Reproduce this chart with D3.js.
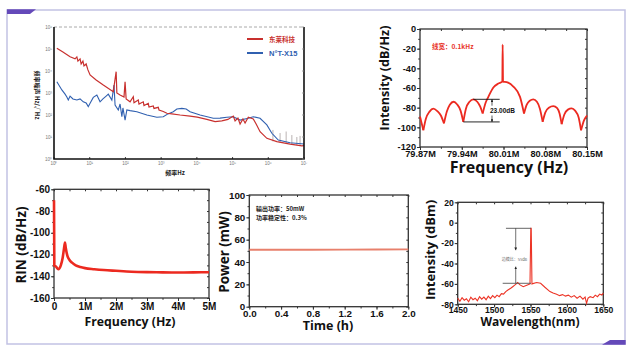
<!DOCTYPE html>
<html>
<head>
<meta charset="utf-8">
<script src="https://cdn.jsdelivr.net/npm/d3@7"></script>
<style>
  body { margin: 0; background: #fff; }
  svg { display: block; }
</style>
</head>
<body>
<div id="chart"></div>
<script>
// ---------- data ----------
// frequency noise, [log10 f (Hz), log10 noise (Hz/rtHz)]
const noiseRed = [[0.08,5.03],[0.25,4.86],[0.45,4.65],[0.59,4.55],[0.64,4.64],[0.67,4.45],[0.73,4.55],[0.76,4.32],[0.81,4.45],[0.84,4.23],[0.90,4.32],[0.95,4.05],[1.01,3.82],[1.18,3.59],[1.38,3.36],[1.66,3.06],[1.74,3.97],[1.76,3.00],[1.85,2.91],[1.96,2.82],[1.99,3.51],[2.02,2.73],[2.13,2.60],[2.22,2.83],[2.24,2.56],[2.36,2.68],[2.38,2.50],[2.50,2.60],[2.52,2.43],[2.64,2.53],[2.66,2.36],[2.78,2.41],[2.80,2.30],[2.92,2.35],[2.94,2.23],[3.06,2.16],[3.16,2.08],[3.30,2.05],[3.53,2.00],[3.81,1.95],[4.01,1.90],[4.28,1.80],[4.51,1.70],[4.70,1.73],[4.87,1.80],[5.02,1.95],[5.07,1.73],[5.15,1.86],[5.21,1.59],[5.29,1.82],[5.35,1.64],[5.44,1.90],[5.58,1.82],[5.66,1.59],[5.77,1.24],[5.96,0.94],[6.24,0.79],[6.61,0.68],[6.94,0.60],[7.0,0.61]];
const noiseBlue = [[0.08,3.51],[0.22,3.14],[0.31,2.95],[0.36,2.82],[0.40,2.68],[0.45,2.86],[0.53,2.73],[0.64,2.68],[0.73,2.73],[0.82,2.60],[0.90,2.55],[0.96,2.38],[1.01,2.53],[1.10,2.80],[1.20,2.91],[1.29,2.60],[1.37,2.73],[1.46,2.86],[1.52,2.95],[1.62,2.68],[1.68,3.36],[1.71,2.45],[1.80,2.23],[1.85,2.50],[1.90,1.92],[1.93,2.32],[1.99,1.77],[2.04,2.23],[2.13,2.20],[2.32,2.15],[2.60,2.00],[2.88,1.90],[3.06,1.92],[3.19,2.05],[3.34,2.15],[3.44,2.27],[3.58,2.30],[3.70,2.27],[3.81,2.15],[4.09,2.00],[4.46,1.85],[4.65,1.86],[4.84,1.90],[5.02,1.92],[5.21,1.77],[5.44,1.85],[5.58,1.92],[5.77,1.85],[5.96,1.55],[6.10,1.17],[6.28,0.86],[6.61,0.74],[7.0,0.68]];
// grey spikes near the end, [log10 f, log10 base, log10 top]
const noiseSpikes = [[6.13,0.80,1.32],[6.33,0.74,1.18],[6.50,0.70,1.25],[6.66,0.67,1.09],[6.80,0.63,1.00],[6.89,0.61,1.05]];
const noiseLegend = ["东莱科技", "N°T-X15"];
const noiseExpX = [0,1,2,3,4,5,6,7];
const noiseExpY = [0,1,2,3,4,5,6];

// beat-note spectrum, lobes between minima, [MHz, dB/Hz]
const beatLobes = [
  [[79.870,-89],[79.8756,-103]],
  [[79.8756,-103],[79.880,-91],[79.886,-84],[79.8923,-81],[79.899,-83.5],[79.905,-88],[79.9102,-96]],
  [[79.9102,-96],[79.915,-84],[79.920,-77],[79.9264,-74],[79.932,-76.5],[79.938,-83],[79.9426,-94.5]],
  [[79.9426,-94.5],[79.947,-81],[79.953,-74],[79.9594,-71.5],[79.966,-74],[79.971,-79],[79.9751,-86]],
  [[79.9751,-86],[79.980,-75],[79.9846,-69],[79.993,-59.5],[80.0013,-55.5],[80.0080,-53.5],[80.0086,-16],[80.0092,-53.5],[80.0153,-54],[80.0265,-58.5],[80.0377,-69],[80.0444,-86]],
  [[80.0444,-86],[80.049,-77],[80.054,-73],[80.060,-71.6],[80.066,-74],[80.071,-81],[80.0757,-94.4]],
  [[80.0757,-94.4],[80.080,-85],[80.086,-80],[80.0935,-78.4],[80.100,-80.5],[80.104,-86],[80.1075,-96.8]],
  [[80.1075,-96.8],[80.112,-87],[80.118,-82],[80.1243,-80.8],[80.130,-83],[80.136,-90],[80.140,-103]],
  [[80.140,-103],[80.145,-93],[80.150,-88]]
];
const beatTicksX = [79.87, 79.94, 80.01, 80.08, 80.15];
const beatTicksY = [-120,-100,-80,-60,-40,-20,0];
const beatLevels = [-71.5, -94.5];   // 23.00dB marker

// RIN, [MHz, dB/Hz]
const rin = [[0,-70],[0.01,-130],[0.06,-131],[0.14,-133.5],[0.22,-130],[0.28,-123],[0.32,-115],[0.354,-109],[0.38,-114],[0.43,-121],[0.5,-125],[0.58,-127.5],[0.7,-130],[0.85,-131.5],[1.0,-132.5],[1.3,-133.5],[1.6,-134.3],[2.0,-135],[2.5,-135.8],[3.0,-136.2],[3.5,-136.4],[4.0,-136.5],[4.5,-136.4],[5.0,-136.3]];
const rinTicksX = [0,1,2,3,4,5];
const rinTicksY = [-160,-140,-120,-100,-80,-60];

// power stability, [h, mW]
const power = [[0,51],[0.4,51],[0.8,51],[1.2,51.1],[1.6,51.2],[2.0,51.3]];
const powerTicksX = [0,0.4,0.8,1.2,1.6,2.0];
const powerTicksY = [0,20,40,60,80,100];

// optical spectrum, [nm, dBm]
const osa = [[1450,-74],[1453,-77],[1456,-73.5],[1459,-76],[1462,-74.5],[1465,-77.5],[1468,-73],[1471,-75.5],[1474,-74],[1477,-76.5],[1480,-72.5],[1483,-75],[1486,-73],[1489,-75.5],[1492,-72],[1495,-74.5],[1498,-71.5],[1501,-73.5],[1504,-71],[1507,-72.5],[1510,-69.5],[1513,-70],[1516,-67.5],[1519,-66],[1522.8,-64.3],[1526,-62.5],[1528.7,-61],[1532.4,-58.7],[1535.6,-61],[1540,-62.7],[1545.7,-61],[1549.3,-60],[1550.4,-5.5],[1551,-5.5],[1552,-60],[1558.4,-58.7],[1563.9,-59.4],[1569.8,-63.3],[1576.7,-67.5],[1581,-69],[1585.9,-70.2],[1590,-71.5],[1594,-70.5],[1598,-72],[1602,-71],[1606,-73],[1610,-71.5],[1614,-74],[1618,-72],[1622,-75],[1625,-73],[1627,-79],[1629,-74],[1632,-72.5],[1636,-73.5],[1639,-71],[1642,-72.5],[1645,-70],[1648,-71],[1650,-69]];
const osaTicksX = [1450,1500,1550,1600,1650];
const osaTicksY = [-80,-60,-40,-20,0,20];
const osaLevels = [-5.5, -59.4];     // side-mode marker

// ---------- drawing ----------
const W = 633, H = 351;
const NUM = "'Liberation Sans', Arial, sans-serif";
const TITLE = "'Open Sans', sans-serif";
const CJK = "'Noto Sans CJK SC', sans-serif";

const svg = d3.select("#chart").append("svg").attr("width", W).attr("height", H);
svg.append("rect").attr("width", W).attr("height", H).attr("fill", "#fff");

const defs = svg.append("defs");
defs.append("marker").attr("id", "arr").attr("viewBox", "0 0 6 6")
  .attr("refX", 6).attr("refY", 3).attr("markerWidth", 4).attr("markerHeight", 4)
  .attr("orient", "auto")
  .append("path").attr("d", "M0,0L6,3L0,6z").attr("fill", "#222");

// outer frame
svg.append("rect").attr("x", 7).attr("y", 10).attr("width", 618).attr("height", 334)
  .attr("fill", "none").attr("stroke", "#c2c2e4").attr("stroke-width", 1.5);
svg.append("polygon").attr("points", "7,9.3 36,9.3 30,14 7,14").attr("fill", "#6449b9");
svg.append("polygon").attr("points", "610,340 625.7,340 625.7,344.8 602,344.8").attr("fill", "#6449b9");

// Origin style framed plot
function originChart(o) {
  const g = svg.append("g");
  const x = d3.scaleLinear().domain(o.xDomain).range([o.left, o.right]);
  const y = d3.scaleLinear().domain(o.yDomain).range([o.bottom, o.top]);
  const xMinor = d3.range(o.xDomain[0], o.xDomain[1] + 1e-9, o.xMinorStep);
  const yMinor = d3.range(o.yDomain[0], o.yDomain[1] + 1e-9, o.yMinorStep);

  const axes = [
    [d3.axisBottom(x).tickValues(o.xTicks).tickFormat(o.xFmt).tickSize(3).tickPadding(o.xPad), `translate(0,${o.bottom})`, true],
    [d3.axisBottom(x).tickValues(xMinor).tickFormat("").tickSize(1.8), `translate(0,${o.bottom})`, false],
    [d3.axisLeft(y).tickValues(o.yTicks).tickFormat(o.yFmt).tickSize(3).tickPadding(1), `translate(${o.left},0)`, true],
    [d3.axisLeft(y).tickValues(yMinor).tickFormat("").tickSize(1.8), `translate(${o.left},0)`, false],
    [d3.axisTop(x).tickValues(xMinor).tickFormat("").tickSize(-2), `translate(0,${o.top})`, false],
    [d3.axisRight(y).tickValues(yMinor).tickFormat("").tickSize(-2), `translate(${o.right},0)`, false]
  ];
  axes.forEach(([ax, tr, lab]) => {
    const a = g.append("g").attr("transform", tr).call(ax);
    a.select(".domain").remove();
    a.selectAll("line").attr("stroke", "#333").attr("stroke-width", 1);
    if (lab) a.selectAll("text").attr("font-family", NUM).attr("font-weight", "bold")
      .attr("font-size", o.tickFont).attr("fill", "#111");
  });

  g.append("rect").attr("x", o.left).attr("y", o.top)
    .attr("width", o.right - o.left).attr("height", o.bottom - o.top)
    .attr("fill", "none").attr("stroke", "#333").attr("stroke-width", 1.3);

  // titles
  g.append("text").attr("transform", `translate(${o.yTitlePos[0]},${o.yTitlePos[1]}) rotate(-90)`)
    .attr("text-anchor", "middle").attr("dy", "0.36em")
    .attr("font-family", TITLE).attr("font-weight", "bold").attr("font-size", o.yTitleFont)
    .attr("fill", "#111").text(o.yTitle);
  g.append("text").attr("x", o.xTitlePos[0]).attr("y", o.xTitlePos[1])
    .attr("text-anchor", "middle")
    .attr("font-family", TITLE).attr("font-weight", "bold").attr("font-size", o.xTitleFont)
    .attr("fill", "#111").text(o.xTitle);
  return { g, x, y };
}

// ---- chart 1: frequency noise (log-log) ----
{
  const g = svg.append("g");
  const x = d3.scaleLog().domain([1, 1e7]).range([54, 304]);
  const y = d3.scaleLog().domain([1, 1e6]).range([159, 27]);
  const line = d3.line().x(d => x(10 ** d[0])).y(d => y(10 ** d[1]));

  g.selectAll(".spk").data(noiseSpikes).join("line")
    .attr("x1", d => x(10 ** d[0])).attr("x2", d => x(10 ** d[0]))
    .attr("y1", d => y(10 ** d[1])).attr("y2", d => y(10 ** d[2]))
    .attr("stroke", "#a8a0a0").attr("stroke-width", 0.8);
  g.append("path").datum(noiseBlue).attr("d", line)
    .attr("fill", "none").attr("stroke", "#3060b0").attr("stroke-width", 1.1);
  g.append("path").datum(noiseRed).attr("d", line)
    .attr("fill", "none").attr("stroke", "#c8302e").attr("stroke-width", 1.2);

  // box
  g.append("line").attr("x1", 54).attr("x2", 304).attr("y1", 27).attr("y2", 27)
    .attr("stroke", "#aaa").attr("stroke-width", 1).attr("stroke-dasharray", "3,2");
  g.append("path").attr("d", `M54,27V159H304V27`).attr("fill", "none")
    .attr("stroke", "#111").attr("stroke-width", 1.6);

  const sup = ["⁰","¹","²","³","⁴","⁵","⁶","⁷"];
  g.selectAll(".xt").data(noiseExpX).join("text")
    .attr("x", d => x(10 ** d)).attr("y", 165).attr("text-anchor", "middle")
    .attr("font-family", NUM).attr("font-size", 4.5).attr("fill", "#777").text(d => "10" + sup[d]);
  g.selectAll(".yt").data(noiseExpY).join("text")
    .attr("x", 52).attr("y", d => y(10 ** d) + 1.5).attr("text-anchor", "end")
    .attr("font-family", NUM).attr("font-size", 4.5).attr("fill", "#777").text(d => "10" + sup[d]);
  g.selectAll(".xtk").data(noiseExpX).join("line")
    .attr("x1", d => x(10 ** d)).attr("x2", d => x(10 ** d)).attr("y1", 159).attr("y2", 157)
    .attr("stroke", "#111").attr("stroke-width", 0.8);
  g.selectAll(".ytk").data(noiseExpY).join("line")
    .attr("x1", 304).attr("x2", 302).attr("y1", d => y(10 ** d)).attr("y2", d => y(10 ** d))
    .attr("stroke", "#888").attr("stroke-width", 0.8);

  // legend
  const lg = [["#c8302e", 39], ["#3060b0", 53]];
  lg.forEach(([c, ly], i) => {
    g.append("line").attr("x1", 247).attr("x2", 263).attr("y1", ly).attr("y2", ly)
      .attr("stroke", c).attr("stroke-width", 2);
    g.append("text").attr("x", 269).attr("y", ly + 2.5)
      .attr("font-family", i ? NUM : CJK).attr("font-weight", "bold").attr("font-size", i ? 7.5 : 6.5)
      .attr("fill", c).text(noiseLegend[i]);
  });

  g.append("text").attr("transform", "translate(35,95) rotate(90)").attr("text-anchor", "middle")
    .attr("font-family", CJK).attr("font-weight", "bold").attr("font-size", 6).attr("fill", "#222")
    .text("频率噪声 Hz/√Hz");
  g.append("text").attr("x", 175).attr("y", 175).attr("text-anchor", "middle")
    .attr("font-family", CJK).attr("font-weight", "bold").attr("font-size", 6).attr("fill", "#222")
    .text("频率Hz");
}

// ---- chart 2: beat note ----
{
  const c = originChart({
    left: 420, right: 587, top: 29, bottom: 147,
    xDomain: [79.87, 80.15], yDomain: [-120, 0],
    xTicks: beatTicksX, yTicks: beatTicksY, xMinorStep: 0.035, yMinorStep: 10,
    xFmt: d => d.toFixed(2) + "M", yFmt: d => d, xPad: 0.5,
    tickFont: 9.2, yTitle: "Intensity (dB/Hz)", yTitleFont: 12.5, yTitlePos: [384, 78],
    xTitle: "Frequency (Hz)", xTitleFont: 16, xTitlePos: [509, 173]
  });
  const line = d3.line().x(d => c.x(d[0])).y(d => c.y(d[1])).curve(d3.curveMonotoneX);
  c.g.selectAll(".lobe").data(beatLobes).join("path").attr("d", line)
    .attr("fill", "none").attr("stroke", "#ec2a20").attr("stroke-width", 1.8);

  const ax = 79.9907;
  c.g.append("line").attr("x1", c.x(79.9594)).attr("x2", c.x(80.0036))
    .attr("y1", c.y(beatLevels[0])).attr("y2", c.y(beatLevels[0])).attr("stroke", "#111").attr("stroke-width", 0.9);
  c.g.append("line").attr("x1", c.x(79.9426)).attr("x2", c.x(80.0036))
    .attr("y1", c.y(beatLevels[1])).attr("y2", c.y(beatLevels[1])).attr("stroke", "#111").attr("stroke-width", 0.9);
  c.g.append("line").attr("x1", c.x(ax)).attr("x2", c.x(ax))
    .attr("y1", c.y(-78)).attr("y2", c.y(beatLevels[0])).attr("stroke", "#111").attr("stroke-width", 0.7)
    .attr("marker-end", "url(#arr)");
  c.g.append("line").attr("x1", c.x(ax)).attr("x2", c.x(ax))
    .attr("y1", c.y(-88)).attr("y2", c.y(beatLevels[1])).attr("stroke", "#111").attr("stroke-width", 0.7)
    .attr("marker-end", "url(#arr)");
  c.g.append("text").attr("x", c.x(ax) - 2).attr("y", c.y(-83)).attr("dy", "0.35em")
    .attr("font-family", NUM).attr("font-weight", "bold").attr("font-size", 6.5).attr("fill", "#111")
    .text((beatLevels[0] - beatLevels[1]).toFixed(2) + "dB");
  c.g.append("text").attr("x", 432).attr("y", 49)
    .attr("font-family", CJK).attr("font-weight", "bold").attr("font-size", 6.5).attr("fill", "#e8342a")
    .text("线宽：0.1kHz");
}

// ---- chart 3: RIN ----
{
  const c = originChart({
    left: 54, right: 209, top: 189.3, bottom: 298,
    xDomain: [0, 5], yDomain: [-160, -60],
    xTicks: rinTicksX, yTicks: rinTicksY, xMinorStep: 0.5, yMinorStep: 10,
    xFmt: d => d === 0 ? "0" : d + "M", yFmt: d => d, xPad: 2,
    tickFont: 10, yTitle: "RIN (dB/Hz)", yTitleFont: 13.5, yTitlePos: [21, 245],
    xTitle: "Frequency (Hz)", xTitleFont: 12.3, xTitlePos: [130, 326]
  });
  const line = d3.line().x(d => c.x(d[0])).y(d => c.y(d[1])).curve(d3.curveMonotoneX);
  c.g.append("path").datum(rin).attr("d", line)
    .attr("fill", "none").attr("stroke", "#ec2a20").attr("stroke-width", 2.6);
}

// ---- chart 4: power ----
{
  const c = originChart({
    left: 249.3, right: 408.3, top: 195, bottom: 306.7,
    xDomain: [0, 2], yDomain: [0, 100],
    xTicks: powerTicksX, yTicks: powerTicksY, xMinorStep: 0.2, yMinorStep: 10,
    xFmt: d => d.toFixed(1), yFmt: d => d, xPad: 0.5,
    tickFont: 9.8, yTitle: "Power (mW)", yTitleFont: 13.5, yTitlePos: [224.5, 252],
    xTitle: "Time (h)", xTitleFont: 12.5, xTitlePos: [328, 330]
  });
  const line = d3.line().x(d => c.x(d[0])).y(d => c.y(d[1]));
  c.g.append("path").datum(power).attr("d", line)
    .attr("fill", "none").attr("stroke", "#e8806c").attr("stroke-width", 1.8);
  ["输出功率：50mW", "功率稳定性：0.3%"].forEach((t, i) => {
    c.g.append("text").attr("x", 256).attr("y", 211 + i * 9)
      .attr("font-family", CJK).attr("font-weight", "bold").attr("font-size", 6).attr("fill", "#222").text(t);
  });
}

// ---- chart 5: optical spectrum ----
{
  const c = originChart({
    left: 457.7, right: 603.3, top: 202.3, bottom: 304.3,
    xDomain: [1450, 1650], yDomain: [-80, 20],
    xTicks: osaTicksX, yTicks: osaTicksY, xMinorStep: 25, yMinorStep: 10,
    xFmt: d => d, yFmt: d => d, xPad: 0,
    tickFont: 8.6, yTitle: "Intensity (dBm)", yTitleFont: 13, yTitlePos: [430, 250],
    xTitle: "Wavelength(nm)", xTitleFont: 12, xTitlePos: [530, 326]
  });
  const line = d3.line().x(d => c.x(d[0])).y(d => c.y(d[1]));
  c.g.append("path").datum(osa).attr("d", line)
    .attr("fill", "none").attr("stroke", "#ec3426").attr("stroke-width", 1.1);

  const ax = 1529.7;
  c.g.append("line").attr("x1", c.x(1516.3)).attr("x2", c.x(1550.7))
    .attr("y1", c.y(osaLevels[0])).attr("y2", c.y(osaLevels[0])).attr("stroke", "#555").attr("stroke-width", 0.9);
  c.g.append("line").attr("x1", c.x(1511.8)).attr("x2", c.x(1550.7))
    .attr("y1", c.y(osaLevels[1])).attr("y2", c.y(osaLevels[1])).attr("stroke", "#555").attr("stroke-width", 0.9);
  c.g.append("line").attr("x1", c.x(ax)).attr("x2", c.x(ax))
    .attr("y1", c.y(osaLevels[0])).attr("y2", c.y(-27)).attr("stroke", "#333").attr("stroke-width", 0.7)
    .attr("marker-end", "url(#arr)");
  c.g.append("line").attr("x1", c.x(ax)).attr("x2", c.x(ax))
    .attr("y1", c.y(osaLevels[1])).attr("y2", c.y(-43)).attr("stroke", "#333").attr("stroke-width", 0.7)
    .attr("marker-end", "url(#arr)");
  c.g.append("text").attr("x", c.x(1528)).attr("y", c.y(-36.5)).attr("dy", "0.35em")
    .attr("text-anchor", "middle")
    .attr("font-family", CJK).attr("font-size", 4).attr("fill", "#666").text("边模比：55dB");
}
</script>
</body>
</html>
